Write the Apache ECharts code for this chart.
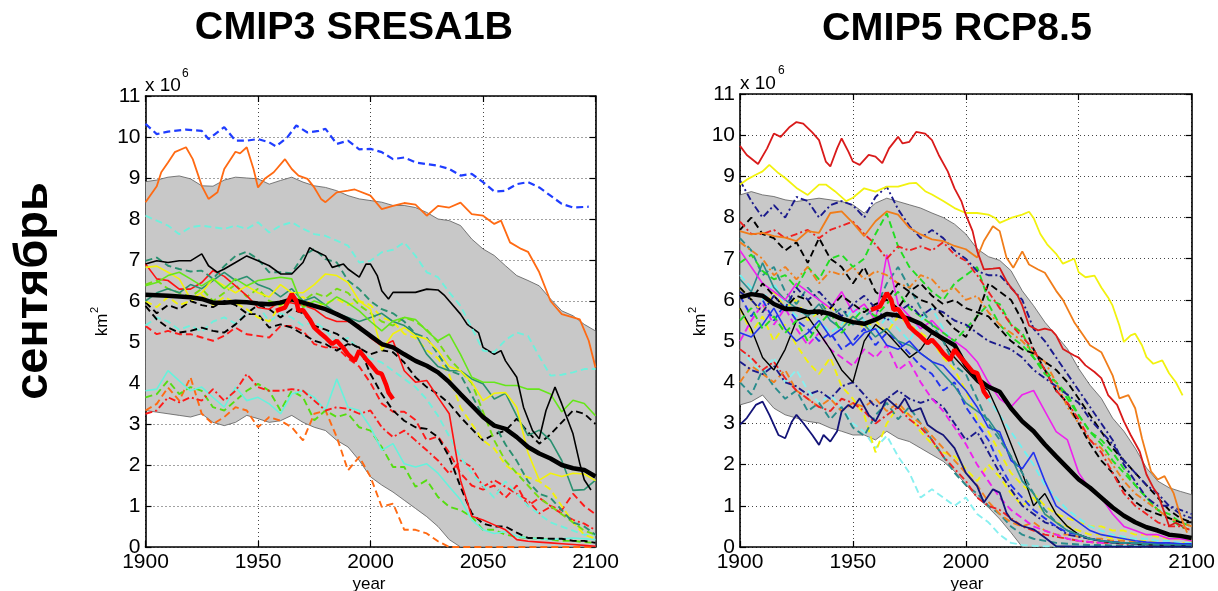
<!DOCTYPE html>
<html>
<head>
<meta charset="utf-8">
<script src="https://cdn.jsdelivr.net/npm/echarts@6/dist/echarts.min.js"></script>
<style>
  html, body { margin: 0; padding: 0; background: #fff; }
  #chart { width: 1218px; height: 591px; }
</style>
</head>
<body>
<div id="chart"></div>
<script>
// September sea-ice extent (x 10^6 km^2), model runs 1900-2100

// shared 5-year grid
const YEARS = [1900,1905,1910,1915,1920,1925,1930,1935,1940,1945,
               1950,1955,1960,1965,1970,1975,1980,1985,1990,1995,
               2000,2005,2010,2015,2020,2025,2030,2035,2040,2045,
               2050,2055,2060,2065,2070,2075,2080,2085,2090,2095,
               2100];
const X_TICKS = ['1900', '1950', '2000', '2050', '2100'];
const Y_TICKS = ['0','1','2','3','4','5','6','7','8','9','10','11'];

// observations (shared by both panels)
const OBS = [[1958,5.76],[1960,5.8],[1962,5.84],[1965,6.17],[1967,6.0],[1968,5.76],[1970,5.78],[1973,5.55],
  [1975,5.35],[1978,5.2],[1980,5.11],[1983,4.95],[1985,5.03],[1988,4.85],[1990,4.7],[1993,4.54],[1995,4.79],
  [1998,4.58],[2000,4.46],[2003,4.26],[2005,4.22],[2007,3.95],[2008,3.77],[2010,3.61]];

// ---------- CMIP3 SRESA1B ----------
const C3_ENV_UP = [8.91,8.95,9.02,9.05,8.98,8.81,8.8,8.95,9.02,9.0,
  8.98,8.85,8.94,9.02,8.9,8.81,8.77,8.69,8.57,8.49,
  8.45,8.41,8.33,8.33,8.28,8.16,8.0,7.96,7.84,7.51,
  7.27,7.11,6.86,6.62,6.5,6.37,6.05,5.76,5.64,5.43,
  5.27];
const C3_ENV_LO = [3.33,3.29,3.25,3.21,3.17,3.25,3.04,2.96,3.04,3.21,
  3.13,3.04,3.08,3.21,3.04,2.92,2.84,2.6,2.44,2.11,
  1.71,1.51,1.34,1.14,0.94,0.74,0.5,0.18,0,0,
  0,0,0,0,0,0,0,0,0,0,
  0];
const C3_MEAN = [6.15,6.14,6.13,6.11,6.09,6.05,5.96,5.96,5.98,5.97,
  5.94,5.92,5.96,6.04,5.96,5.88,5.8,5.68,5.55,5.35,
  5.15,4.95,4.87,4.7,4.54,4.42,4.26,4.02,3.73,3.45,
  3.17,2.96,2.88,2.68,2.44,2.28,2.16,2.0,1.92,1.88,
  1.72];
const C3_CYAN_DASH_HI = [8.08,7.96,7.84,7.63,7.8,7.84,7.8,7.76,7.84,7.76,
  7.92,7.67,7.84,7.92,7.76,7.63,7.59,7.47,7.35,6.94,
  6.98,7.19,7.25,7.43,7.1,6.7,6.58,6.21,5.88,5.35,
  4.79,4.75,5.05,5.23,5.15,4.65,4.18,4.2,4.26,4.34,
  4.34];
const C3_TEAL_DASH = [6.98,7.06,6.86,6.78,6.72,6.74,6.54,6.85,7.1,7.2,
  7.02,6.7,6.7,6.68,7.1,7.27,7.02,6.94,6.5,6.29,
  6.0,5.8,5.7,5.5,5.2,5.1,4.7,4.3,4.2,3.7,
  3.2,3.0,2.5,2.1,1.6,1.3,1.2,0.9,0.6,0.5,
  0.3];
const C3_TEAL = [6.0,6.2,6.3,6.2,6.4,6.3,6.5,6.7,6.5,6.6,
  6.4,6.3,6.1,6.3,6.0,6.1,5.9,5.7,5.6,5.5,
  5.6,5.7,5.5,5.4,5.2,4.7,4.4,4.3,4.3,4.1,
  3.98,3.61,3.75,3.2,2.72,2.85,2.6,2.11,1.38,1.4,
  1.63];
const C3_LIME = [6.37,6.45,6.62,6.7,6.54,6.37,6.54,6.3,6.54,6.37,
  6.5,6.54,6.58,6.54,5.84,6.0,5.9,6.1,5.95,5.76,
  5.5,5.27,5.51,5.6,5.55,5.27,5.03,5.19,4.7,4.14,
  4.02,4.02,3.94,3.94,3.85,3.85,3.73,3.3,3.58,3.5,
  3.2];
const C3_LIME_DASH = [6.4,6.5,6.3,6.2,6.1,6.3,6.0,6.2,6.4,6.1,
  6.3,6.0,5.9,6.1,6.0,6.2,6.1,6.3,6.2,5.9,
  5.7,5.5,5.4,5.6,5.5,5.3,5.0,4.6,4.3,4.0,
  3.3,2.6,2.1,1.8,1.5,1.2,1.0,0.8,0.6,0.4,
  0.3];
const C3_YELLOW = [6.82,6.85,6.7,6.54,6.05,6.2,6.54,6.37,6.2,6.37,
  6.2,6.1,6.4,6.2,6.2,6.4,6.66,6.62,6.45,6.0,
  5.8,4.8,5.2,5.35,5.15,5.07,4.79,4.4,4.3,4.02,
  3.57,3.75,3.77,3.41,2.3,1.63,1.8,1.72,1.8,1.78,
  1.62];
const C3_YELLOW_DASH = [6.0,5.85,6.1,5.9,6.0,6.15,5.9,6.1,5.95,5.8,
  5.6,5.5,5.9,6.0,6.1,5.85,5.95,6.05,5.9,6.0,
  5.9,5.6,5.5,5.2,5.1,4.8,4.6,4.2,3.4,3.0,
  2.6,2.4,2.0,1.8,1.7,1.6,1.4,1.0,0.6,0.3,
  0.2];
const C3_RED = [6.9,6.54,6.5,6.29,6.29,6.45,6.74,6.6,6.37,6.13,
  5.84,5.8,6.0,5.95,5.9,5.8,5.6,5.5,5.5,5.4,
  5.1,4.9,5.03,4.3,4.02,4.06,3.65,3.25,1.63,0.75,
  0.66,0.54,0.42,0.18,0.14,0.12,0.1,0.08,0.06,0.04,
  0.02];
const C3_BLACK_DASH_HI = [5.97,5.7,5.9,5.8,6.0,5.9,5.85,6.0,5.9,5.7,
  5.9,5.8,5.6,5.8,5.7,5.4,5.3,5.2,5.0,4.85,
  4.7,4.8,4.75,4.5,4.14,3.9,3.73,3.5,3.17,2.88,
  2.6,2.75,2.84,3.13,2.8,2.52,2.75,3.04,3.33,3.25,
  3.0];
const C3_BLACK_DASH_LO = [5.88,5.55,5.35,5.23,5.27,5.35,5.27,5.23,5.43,5.68,
  5.68,5.35,5.43,5.35,5.19,5.03,4.95,4.79,4.95,4.87,
  4.22,3.73,3.33,3.08,2.92,2.88,2.68,2.2,1.47,0.82,
  0.57,0.5,0.5,0.35,0.22,0.22,0.2,0.2,0.15,0.15,
  0.1];
const C3_RED_DASH_HI = [5.39,5.19,5.27,5.19,5.19,5.11,5.03,5.15,5.35,5.19,
  5.15,5.11,5.39,5.39,5.27,4.95,4.87,4.87,4.6,4.4,
  4.0,3.5,3.3,3.3,3.1,2.6,2.7,2.3,1.8,1.5,
  1.4,1.5,1.2,1.5,1.0,1.2,1.0,0.9,1.3,1.0,
  0.8];
const C3_RED_DASH_LO = [3.25,3.33,3.65,3.53,3.65,3.57,3.85,3.57,3.81,4.22,
  3.9,3.81,3.81,3.85,3.81,3.57,3.33,3.41,3.37,3.25,
  3.33,2.92,2.68,2.84,2.6,2.36,2.11,1.79,2.11,1.95,
  1.47,1.63,1.47,1.3,1.14,0.82,0.98,0.82,0.66,0.57,
  0.41];
const C3_CYAN_DASH_MID = [5.4,5.6,5.5,5.3,5.4,5.25,5.5,5.6,5.45,5.7,
  5.9,5.5,5.7,5.6,5.4,5.5,5.3,5.0,5.1,4.8,
  4.6,4.5,4.3,4.1,3.9,3.6,3.2,2.7,2.2,1.8,
  1.5,1.2,1.6,1.3,1.0,0.8,0.6,0.5,0.4,0.3,
  0.3];
const C3_CYAN = [3.81,3.85,4.3,4.05,3.81,3.9,3.65,3.41,3.9,3.57,
  3.65,3.49,3.25,3.73,3.81,3.65,3.33,4.1,3.41,3.33,
  2.92,2.36,2.52,2.03,1.95,2.03,1.8,1.47,1.15,0.66,
  0.42,0.33,0.38,0.26,0.22,0.2,0.18,0.2,0.22,0.2,
  0.18];
const C3_GREEN_DASH = [3.65,3.73,4.06,3.73,3.9,3.81,3.41,3.33,3.57,3.81,
  3.98,3.81,3.33,3.81,3.65,3.09,3.33,3.17,3.25,2.92,
  2.84,2.44,1.95,1.95,1.47,1.63,1.22,0.98,0.9,0.74,
  0.42,0.42,0.3,0.25,0.22,0.2,0.18,0.15,0.15,0.12,
  0.1];
const C3_ORANGE_DASH = [3.33,3.49,3.89,3.57,4.14,3.25,3.0,3.17,3.41,3.33,
  2.92,3.17,3.08,2.92,2.6,3.25,3.33,2.68,1.87,2.2,
  1.71,0.98,1.06,0.42,0.42,0.33,0.14,0,0,0,
  0,0,0,0,0,0,0,0,0,0,
  0];
const C3_BLUE_DASH = [[1900,10.32],[1905,10.07],[1910,10.13],[1918,10.18],[1925,10.15],[1928,9.95],[1935,10.24],
  [1940,9.91],[1945,9.91],[1950,9.95],[1955,9.87],[1958,9.77],[1963,9.99],[1967,10.28],[1972,10.11],[1977,10.15],
  [1980,10.2],[1985,9.83],[1990,9.91],[1995,9.7],[2000,9.71],[2005,9.63],[2010,9.46],[2015,9.5],[2020,9.38],
  [2025,9.34],[2030,9.3],[2035,9.22],[2040,9.06],[2045,9.1],[2050,8.9],[2055,8.67],[2060,8.69],[2065,8.85],
  [2070,8.9],[2075,8.77],[2080,8.57],[2085,8.37],[2090,8.28],[2097,8.3]];
const C3_ORANGE = [[1900,8.41],[1905,8.8],[1907,9.14],[1910,9.38],[1913,9.63],[1918,9.75],[1921,9.46],[1925,8.81],
  [1928,8.49],[1932,8.65],[1935,9.22],[1940,9.64],[1942,9.6],[1945,9.75],[1948,9.22],[1950,8.77],[1953,8.98],
  [1957,9.14],[1962,9.46],[1965,9.22],[1968,9.06],[1972,8.98],[1975,8.77],[1978,8.49],[1980,8.41],[1985,8.65],
  [1990,8.69],[1993,8.72],[2000,8.57],[2005,8.24],[2010,8.32],[2015,8.39],[2020,8.35],[2025,8.08],[2030,8.32],
  [2035,8.28],[2040,8.4],[2045,8.12],[2050,8.08],[2055,7.88],[2058,7.96],[2062,7.43],[2067,7.27],[2070,7.2],
  [2075,6.7],[2080,6.0],[2085,5.68],[2090,5.6],[2093,5.55],[2097,5.03],[2100,4.38]];
const C3_BLACK = [[1900,6.9],[1905,6.98],[1910,6.94],[1915,6.98],[1920,6.98],[1925,7.15],[1928,6.86],[1932,6.7],
  [1935,6.78],[1940,6.94],[1945,7.1],[1950,6.98],[1955,6.86],[1960,6.66],[1965,6.66],[1970,6.94],[1973,7.3],
  [1975,7.23],[1980,7.1],[1983,6.82],[1988,6.9],[1990,6.78],[1995,6.58],[1998,6.9],[2000,6.9],[2003,6.62],
  [2005,6.25],[2008,6.05],[2010,6.21],[2015,6.21],[2020,6.21],[2025,6.29],[2030,6.27],[2033,6.13],[2035,6.0],
  [2040,5.68],[2043,5.43],[2048,5.23],[2050,4.87],[2055,4.7],[2058,4.79],[2060,4.54],[2065,4.14],[2068,3.41],
  [2072,2.84],[2075,2.64],[2078,3.33],[2082,3.9],[2085,3.49],[2090,2.76],[2093,2.04],[2095,1.64],[2098,1.39]];

// ---------- CMIP5 RCP8.5 ----------
const C5_ENV_UP = [8.55,8.63,8.55,8.51,8.43,8.39,8.43,8.47,8.43,8.39,
  8.31,8.11,8.35,8.47,8.39,8.31,8.23,8.11,8.0,7.84,
  7.6,7.24,7.05,6.96,6.71,6.22,5.86,5.46,5.14,4.81,
  4.33,3.93,3.61,3.13,2.81,2.4,1.92,1.6,1.44,1.35,
  1.27];
const C5_ENV_LO = [3.45,3.53,3.69,3.37,3.21,3.13,3.05,3.01,2.89,2.81,
  2.72,2.72,2.6,2.81,2.64,2.56,2.4,2.24,2.08,1.84,
  1.52,1.2,0.96,0.68,0.35,0,0,0,0,0,
  0,0,0,0,0,0,0,0,0,0,
  0];
const C5_MEAN = [6.06,6.14,6.1,5.9,5.78,5.78,5.7,5.72,5.66,5.54,
  5.46,5.42,5.52,5.66,5.62,5.54,5.42,5.22,5.06,4.9,
  4.41,4.09,3.89,3.77,3.37,3.05,2.81,2.49,2.2,1.92,
  1.64,1.44,1.2,0.96,0.76,0.6,0.48,0.4,0.3,0.27,
  0.22];
const C5_NAVY_DD_HI = [8.9,8.4,8.0,8.3,8.0,8.5,8.4,8.0,8.3,8.4,
  8.3,8.0,8.5,8.75,8.2,7.8,7.5,7.7,7.5,7.2,
  7.0,6.7,6.6,6.6,6.3,6.0,5.3,5.0,4.6,4.2,
  3.8,3.4,3.0,2.6,2.0,1.6,1.2,1.0,1.0,0.8,
  0.7];
const C5_RED_DD = [7.9,7.6,7.6,7.7,7.5,7.6,7.7,7.5,7.7,7.8,
  7.9,7.6,7.35,7.0,7.3,7.2,7.3,7.2,7.4,7.1,
  6.95,6.6,6.2,5.8,5.4,5.1,4.8,4.3,3.8,3.5,
  3.1,2.6,2.3,1.8,1.3,1.0,0.8,0.6,0.5,0.5,
  0.4];
const C5_BLACK_DASH_HI = [7.7,8.0,7.6,7.5,7.2,7.4,6.9,7.5,7.0,6.8,
  6.4,6.8,6.2,6.0,6.4,6.2,6.0,5.9,5.6,5.3,
  5.1,5.6,6.4,6.2,6.0,5.5,4.8,4.3,3.8,3.5,
  3.0,2.5,2.1,1.8,1.4,1.1,0.9,0.8,0.7,0.6,
  0.6];
const C5_GREEN_DASH_HI = [6.9,7.1,6.7,6.5,6.6,6.3,6.8,6.5,7.0,7.1,
  6.8,7.0,7.6,8.1,7.3,6.8,6.5,6.2,6.0,6.4,
  6.6,6.8,6.0,5.9,5.4,5.2,4.6,4.3,4.0,3.7,
  3.2,2.8,2.5,2.1,1.8,1.5,1.2,0.9,0.7,0.5,
  0.4];
const C5_ORANGE_DD = [7.4,7.2,7.0,6.6,6.8,6.5,6.8,6.4,6.7,6.6,
  6.8,6.5,6.7,6.6,6.4,6.3,6.6,6.5,6.2,6.3,
  6.0,6.1,5.7,5.4,5.2,5.0,4.7,4.5,4.0,3.4,
  3.0,2.6,2.4,2.0,1.6,1.3,1.1,0.9,0.7,0.6,
  0.5];
const C5_TEAL_DASH_HI = [7.5,7.2,6.6,6.8,6.2,5.9,6.3,6.0,5.6,5.8,
  5.4,5.6,5.8,6.4,6.8,6.3,5.8,5.4,5.0,4.4,
  4.2,3.6,3.0,2.6,2.2,1.8,1.3,0.9,0.6,0.4,
  0.3,0.2,0.15,0.1,0.1,0.08,0.06,0.05,0.05,0.04,
  0.03];
const C5_MAGENTA = [7.2,6.8,6.4,6.2,6.0,6.4,6.2,6.0,5.8,6.2,
  5.7,5.9,5.5,7.1,5.9,5.6,5.3,5.5,5.2,5.0,
  4.8,4.5,4.0,3.6,3.4,3.7,3.8,3.3,2.8,2.6,
  1.8,1.4,1.2,0.8,0.5,0.4,0.3,0.3,0.2,0.2,
  0.15];
const C5_MAGENTA_DASH = [5.0,5.5,5.9,5.4,5.8,5.3,4.9,5.2,4.8,4.6,
  4.4,4.8,4.6,4.9,4.3,4.5,4.0,3.6,3.3,2.9,
  2.5,2.0,1.6,1.2,0.9,0.7,0.5,0.4,0.3,0.2,
  0.15,0.12,0.1,0.1,0.1,0.08,0.08,0.06,0.06,0.05,
  0.05];
const C5_CYAN_DASH_HI = [6.6,6.3,6.0,6.4,5.9,5.6,5.8,5.5,5.2,5.4,
  5.8,5.5,5.2,5.6,5.3,5.0,5.5,5.8,5.3,4.9,
  4.5,4.2,3.6,3.2,2.8,2.4,2.0,1.5,1.2,0.9,
  0.7,0.5,0.4,0.3,0.25,0.2,0.2,0.15,0.15,0.1,
  0.1];
const C5_CYAN_DASH_LO = [4.8,4.5,4.2,4.6,4.0,4.3,3.8,3.5,3.7,3.4,
  3.0,2.8,2.4,2.7,2.2,1.8,1.2,1.4,1.2,1.0,
  1.2,0.8,0.6,0.3,0.1,0.05,0.03,0.02,0.02,0.02,
  0.02,0.02,0.02,0.02,0.02,0.02,0.02,0.02,0.02,0.02,
  0.02];
const C5_YELLOW_DASH_LO = [5.8,5.2,5.6,5.0,5.4,4.9,4.5,4.2,4.6,3.9,
  3.6,3.2,2.3,3.0,3.4,3.2,2.8,2.5,2.3,2.2,
  1.9,1.6,2.0,1.7,1.3,1.0,1.2,0.8,0.6,0.5,
  0.4,0.3,0.3,0.2,0.2,0.15,0.15,0.1,0.1,0.1,
  0.1];
const C5_YELLOW_DASH_HI = [6.3,6.0,5.7,6.2,5.8,6.0,5.5,5.7,5.9,5.4,
  5.6,5.3,5.5,5.2,5.6,5.4,5.2,5.0,4.6,4.3,
  3.8,3.1,2.8,2.3,1.8,1.5,1.3,1.0,0.8,0.7,
  0.6,0.5,0.5,0.4,0.4,0.3,0.3,0.25,0.2,0.2,
  0.15];
const C5_BLUE_DASH = [6.1,5.6,6.0,5.5,5.9,5.5,5.3,5.0,5.2,4.8,
  5.0,5.3,4.9,5.2,5.0,4.7,4.4,4.2,3.8,4.0,
  3.4,3.0,2.6,2.0,1.5,1.2,0.9,0.7,0.5,0.35,
  0.3,0.2,0.15,0.12,0.1,0.1,0.08,0.08,0.06,0.06,
  0.05];
const C5_NAVY_DD_LO = [4.5,4.3,4.2,4.4,4.0,3.9,3.7,3.8,3.6,3.9,
  4.0,3.7,3.4,3.6,3.8,3.6,3.5,3.6,3.4,3.0,
  2.6,2.8,2.3,1.8,1.4,1.0,0.8,0.6,0.5,0.3,
  0.25,0.2,0.15,0.12,0.1,0.1,0.08,0.08,0.06,0.05,
  0.05];
const C5_TEAL_DASH_LO = [4.0,3.7,4.3,3.9,3.6,3.8,3.3,3.5,3.1,3.4,
  2.9,2.7,3.2,3.5,3.1,3.4,3.0,2.6,2.2,1.8,
  1.5,1.3,1.0,0.8,0.5,0.3,0.2,0.15,0.1,0.08,
  0.06,0.05,0.05,0.04,0.04,0.03,0.03,0.02,0.02,0.02,
  0.02];
const C5_RED_DASH_LO = [4.8,4.6,4.3,4.5,4.1,3.8,3.6,3.4,3.3,3.6,
  3.5,3.3,3.0,3.2,3.4,3.1,2.9,2.6,2.2,1.9,
  1.6,1.2,1.0,0.9,0.7,0.5,0.4,0.3,0.25,0.2,
  0.15,0.12,0.1,0.1,0.08,0.08,0.06,0.06,0.05,0.05,
  0.04];
const C5_BLACK = [5.8,5.3,4.6,4.3,4.8,5.5,5.6,5.2,4.8,4.3,
  4.0,5.0,5.4,5.2,4.9,4.6,4.8,5.2,5.0,4.6,
  4.3,4.0,3.8,3.2,2.5,1.8,1.0,1.3,0.8,0.5,
  0.3,0.2,0.15,0.1,0.1,0.08,0.06,0.05,0.05,0.04,
  0.04];
const C5_TEAL = [6.5,6.2,6.9,6.3,6.0,5.8,5.6,5.9,5.5,5.3,
  5.6,5.4,5.1,5.3,5.0,4.9,4.7,4.5,4.2,3.9,
  3.5,3.3,3.1,2.7,2.2,1.6,1.3,0.8,0.6,0.4,
  0.3,0.2,0.15,0.12,0.1,0.1,0.08,0.08,0.06,0.06,
  0.05];
const C5_BLUE = [5.2,5.1,5.4,5.8,5.3,5.0,5.2,5.5,5.1,5.3,
  4.9,5.2,5.3,4.9,4.8,5.0,4.7,4.5,4.4,4.1,
  3.8,3.4,2.9,2.8,2.1,1.9,2.3,1.6,1.0,0.8,
  0.6,0.4,0.3,0.25,0.2,0.15,0.12,0.1,0.1,0.08,
  0.08];
const C5_GREEN_DASH_MID = [5.5,5.8,5.3,5.6,5.2,5.5,5.0,5.4,5.7,5.2,
  5.5,5.8,5.6,5.9,6.2,5.8,5.6,5.4,5.2,5.0,
  5.3,5.6,5.9,5.4,5.1,4.9,4.6,4.2,4.0,3.6,
  3.2,2.8,2.6,2.3,1.9,1.5,1.2,0.9,0.8,0.6,
  0.5];
const C5_BLACK_DASH_LATE = [6.3,6.0,6.4,6.1,5.8,6.1,6.0,5.6,5.8,6.1,
  5.9,5.7,5.9,6.0,5.8,6.2,6.4,6.1,5.9,6.0,
  5.8,5.7,5.6,5.3,5.0,4.8,4.7,4.5,4.3,4.0,
  3.6,3.2,2.8,2.4,2.1,1.8,1.5,1.2,0.9,0.7,
  0.6];
const C5_NAVY_DASH_LATE = [6.2,6.0,5.7,6.1,5.8,6.3,6.0,6.2,5.9,5.6,
  5.9,6.1,5.8,5.5,5.7,5.9,5.6,5.8,5.7,5.5,
  5.4,5.2,5.0,4.9,4.8,4.6,4.3,4.1,3.9,3.7,
  3.5,3.1,2.8,2.5,2.1,1.8,1.5,1.3,1.0,0.9,
  0.8];
const C5_ORANGE_DASH = [4.0,4.4,4.2,4.0,4.3,3.8,3.6,3.4,3.6,3.3,
  3.5,3.4,3.6,3.3,3.5,3.2,3.0,2.7,2.4,2.1,
  1.8,1.5,1.1,0.8,0.6,0.5,0.6,0.4,0.3,0.3,
  0.25,0.2,0.2,0.15,0.15,0.12,0.1,0.1,0.1,0.08,
  0.08];
const C5_RED_TOP = [[1900,9.74],[1903,9.52],[1908,9.3],[1912,9.68],[1915,10.04],[1918,9.96],[1922,10.2],[1925,10.32],
  [1928,10.28],[1932,10.07],[1935,9.88],[1938,9.36],[1940,9.24],[1943,9.68],[1945,9.92],[1948,9.6],[1950,9.36],
  [1953,9.28],[1957,9.52],[1960,9.48],[1963,9.32],[1966,9.68],[1970,9.96],[1972,9.8],[1975,9.84],[1978,10.08],
  [1982,10.04],[1985,9.88],[1988,9.52],[1992,9.12],[1995,8.71],[1998,8.4],[2000,8.07],[2003,7.67],[2005,7.19],
  [2008,6.74],[2012,6.76],[2015,6.78],[2018,6.46],[2020,6.3],[2023,6.1],[2025,5.86],[2028,5.38],[2032,5.26],
  [2035,5.3],[2038,5.26],[2040,5.14],[2043,4.81],[2048,4.65],[2050,4.6],[2053,4.41],[2057,4.25],[2060,4.1],
  [2063,3.69],[2067,3.45],[2070,3.05],[2073,2.72],[2077,2.32],[2080,1.76],[2083,1.44],[2085,1.28],[2088,0.83],
  [2090,0.51],[2093,0.59],[2096,0.5]];
const C5_YELLOW_TOP = [[1900,8.8],[1903,8.92],[1907,9.04],[1910,9.12],[1913,9.28],[1917,9.08],[1920,8.96],[1925,8.72],
  [1930,8.55],[1935,8.8],[1938,8.8],[1942,8.64],[1947,8.4],[1950,8.48],[1955,8.71],[1960,8.63],[1965,8.75],
  [1970,8.75],[1975,8.83],[1978,8.84],[1982,8.64],[1985,8.56],[1990,8.4],[1995,8.23],[2000,8.11],[2005,8.11],
  [2010,8.07],[2013,7.99],[2015,7.87],[2020,7.99],[2025,8.07],[2028,8.14],[2030,7.99],[2033,7.6],[2036,7.35],
  [2040,7.12],[2043,6.88],[2048,7.0],[2050,6.67],[2053,6.55],[2057,6.59],[2060,6.3],[2063,6.06],[2065,5.86],
  [2068,5.38],[2070,4.98],[2073,5.14],[2075,5.18],[2078,4.9],[2080,4.61],[2083,4.45],[2087,4.53],[2090,4.22],
  [2093,4.0],[2096,3.68]];
const C5_ORANGE_TOP = [[1900,7.67],[1905,7.59],[1910,7.63],[1915,7.55],[1920,7.51],[1925,7.43],[1930,7.67],[1935,7.63],
  [1940,8.11],[1945,8.15],[1950,7.87],[1955,7.55],[1960,7.91],[1965,8.15],[1970,8.07],[1975,7.75],[1980,7.59],
  [1985,7.47],[1990,7.43],[1995,7.31],[2000,7.23],[2005,7.03],[2008,7.43],[2012,7.79],[2015,7.67],[2018,7.03],
  [2021,6.78],[2025,7.18],[2028,6.86],[2032,6.74],[2035,6.66],[2040,6.22],[2043,6.0],[2048,5.46],[2052,5.14],
  [2055,4.9],[2060,4.73],[2065,4.17],[2068,3.61],[2072,3.69],[2075,3.37],[2078,2.64],[2082,1.84],[2085,1.64],
  [2088,1.72],[2092,1.31],[2095,0.76],[2098,0.35]];
const C5_NAVY = [[1900,2.97],[1903,3.13],[1907,3.45],[1910,3.53],[1913,3.21],[1917,2.72],[1920,2.64],[1923,3.05],
  [1925,3.21],[1928,3.01],[1932,2.72],[1935,2.48],[1937,2.72],[1940,2.56],[1943,2.81],[1945,3.29],[1948,3.45],
  [1950,3.37],[1953,3.61],[1957,3.21],[1960,3.05],[1963,3.37],[1965,3.61],[1970,3.37],[1973,3.61],[1976,3.29],
  [1980,3.37],[1983,2.97],[1987,2.81],[1990,2.72],[1995,2.4],[2000,1.8],[2005,1.48],[2008,1.08],[2012,1.4],
  [2015,1.32],[2018,0.83],[2020,0.67],[2025,0.51],[2030,0.43],[2035,0.23],[2040,0.02],[2050,0.01],[2100,0.01]];

// ---------- drawing ----------
const FONT = '"Liberation Sans", Arial, Helvetica, sans-serif';
const SOLID = 'solid';
const DASH = [7, 4];
const DASHDOT = [7, 3, 2, 3];

function onGrid(vals) { return vals.map((v, i) => [YEARS[i], v]); }

function line(panel, data, color, type, width, z) {
  return {
    type: 'line', xAxisIndex: panel * 2, yAxisIndex: panel * 2,
    data: Array.isArray(data[0]) ? data : onGrid(data),
    symbol: 'none', silent: true, animation: false, z: z || 3,
    lineStyle: { color, type, width: width || (type === SOLID ? 1.6 : 1.9), cap: 'butt' }
  };
}

function envelope(panel, up, lo) {
  return {
    type: 'custom', coordinateSystem: 'cartesian2d',
    xAxisIndex: panel * 2, yAxisIndex: panel * 2,
    data: [[YEARS[0], 0]], silent: true, animation: false, z: 2,
    renderItem: (params, api) => {
      const pts = up.map((v, i) => api.coord([YEARS[i], v]));
      for (let i = lo.length - 1; i >= 0; i--) pts.push(api.coord([YEARS[i], lo[i]]));
      return { type: 'polygon', shape: { points: pts },
               style: { fill: '#c8c8c8', stroke: '#5a5a5a', lineWidth: 0.8 } };
    }
  };
}

function xAxis(gi, top) {
  return {
    type: 'value', gridIndex: gi, position: top ? 'top' : 'bottom',
    min: 1900, max: 2100, interval: 50,
    axisLine: { show: true, onZero: false, lineStyle: { color: '#000', width: 1.6 } },
    axisTick: { show: true, inside: true, length: 6, lineStyle: { color: '#000', width: 1.2 } },
    axisLabel: { show: !top, color: '#000', fontSize: 21, fontFamily: FONT, margin: 5,
                 showMinLabel: true, showMaxLabel: true,
                 formatter: v => X_TICKS[(v - 1900) / 50] },
    splitLine: { show: !top, lineStyle: { color: '#444', width: 1, type: [1, 3] } }
  };
}
function yAxis(gi, right) {
  return {
    type: 'value', gridIndex: gi, position: right ? 'right' : 'left',
    min: 0, max: 11, interval: 1,
    axisLine: { show: true, onZero: false, lineStyle: { color: '#000', width: 1.6 } },
    axisTick: { show: true, inside: true, length: 6, lineStyle: { color: '#000', width: 1.2 } },
    axisLabel: { show: !right, color: '#000', fontSize: 21, fontFamily: FONT, margin: 5,
                 showMinLabel: true, showMaxLabel: true, formatter: v => Y_TICKS[v] },
    splitLine: { show: !right, lineStyle: { color: '#444', width: 1, type: [1, 3] } }
  };
}

function txt(x, y, text, size, opts) {
  return Object.assign({
    type: 'text', x, y, silent: true,
    style: { text, font: (opts && opts.bold ? 'bold ' : '') + size + 'px ' + FONT, fill: '#000',
             align: (opts && opts.align) || 'center', verticalAlign: 'middle' }
  }, opts && opts.rot ? { rotation: opts.rot } : {});
}

const R90 = Math.PI / 2;

const series = [
  // CMIP3
  envelope(0, C3_ENV_UP, C3_ENV_LO),
  line(0, C3_ORANGE_DASH, '#ff6a13', DASH),
  line(0, C3_GREEN_DASH, '#55dd11', DASH),
  line(0, C3_CYAN, '#66f2dc', SOLID),
  line(0, C3_RED_DASH_LO, '#ff1a1a', DASHDOT),
  line(0, C3_RED_DASH_HI, '#ff1a1a', DASH),
  line(0, C3_CYAN_DASH_MID, '#6ff0dc', DASH),
  line(0, C3_BLACK_DASH_LO, '#000', DASH),
  line(0, C3_BLACK_DASH_HI, '#000', DASH),
  line(0, C3_YELLOW_DASH, '#f2f20a', DASH),
  line(0, C3_LIME_DASH, '#77dd11', DASH),
  line(0, C3_RED, '#ff1111', SOLID),
  line(0, C3_TEAL, '#2a9070', SOLID),
  line(0, C3_TEAL_DASH, '#2a9070', DASH),
  line(0, C3_YELLOW, '#f2f20a', SOLID),
  line(0, C3_LIME, '#66e61a', SOLID),
  line(0, C3_BLACK, '#000', SOLID),
  line(0, C3_CYAN_DASH_HI, '#6ff0dc', DASH),
  line(0, C3_ORANGE, '#ff6a13', SOLID, 1.8),
  line(0, C3_BLUE_DASH, '#1f3dff', DASH, 2.2),
  line(0, C3_MEAN, '#000', SOLID, 4.5, 5),
  line(0, OBS, '#ff0000', SOLID, 4.5, 6),
  // CMIP5
  envelope(1, C5_ENV_UP, C5_ENV_LO),
  line(1, C5_CYAN_DASH_LO, '#88f0f0', DASH),
  line(1, C5_YELLOW_DASH_LO, '#f2f20a', DASH),
  line(1, C5_TEAL_DASH_LO, '#2a8c8c', DASH),
  line(1, C5_ORANGE_DASH, '#f08020', DASH),
  line(1, C5_RED_DASH_LO, '#ee2222', DASHDOT),
  line(1, C5_NAVY_DD_LO, '#1a1a8c', DASHDOT),
  line(1, C5_MAGENTA_DASH, '#ee22ee', DASH),
  line(1, C5_BLUE_DASH, '#2233ee', DASH),
  line(1, C5_YELLOW_DASH_HI, '#f2f20a', DASH),
  line(1, C5_CYAN_DASH_HI, '#6ff0f0', DASH),
  line(1, C5_BLACK, '#000', SOLID, 1.4),
  line(1, C5_TEAL, '#2a8c8c', SOLID),
  line(1, C5_BLUE, '#2233ee', SOLID),
  line(1, C5_TEAL_DASH_HI, '#2a8c8c', DASH),
  line(1, C5_MAGENTA, '#ee22ee', SOLID),
  line(1, C5_GREEN_DASH_MID, '#22dd22', DASH),
  line(1, C5_GREEN_DASH_HI, '#22dd22', DASH),
  line(1, C5_ORANGE_DD, '#f08020', DASHDOT),
  line(1, C5_BLACK_DASH_LATE, '#000', DASH),
  line(1, C5_NAVY_DASH_LATE, '#1a1a8c', DASHDOT),
  line(1, C5_BLACK_DASH_HI, '#000', DASH),
  line(1, C5_RED_DD, '#ee2222', DASHDOT),
  line(1, C5_NAVY_DD_HI, '#1a1a8c', DASHDOT),
  line(1, C5_NAVY, '#141478', SOLID, 1.8),
  line(1, C5_ORANGE_TOP, '#f07d1a', SOLID, 1.8),
  line(1, C5_YELLOW_TOP, '#f2f20f', SOLID, 1.8),
  line(1, C5_RED_TOP, '#d91a1a', SOLID, 1.8),
  line(1, C5_MEAN, '#000', SOLID, 4.5, 5),
  line(1, OBS, '#ff0000', SOLID, 4.5, 6)
];

const chart = echarts.init(document.getElementById('chart'), null, { renderer: 'canvas' });
chart.setOption({
  animation: false,
  backgroundColor: '#fff',
  grid: [
    { left: 145.5, top: 96, width: 450, height: 451, containLabel: false },
    { left: 740, top: 94, width: 455, height: 453, containLabel: false }
  ],
  xAxis: [xAxis(0, false), xAxis(0, true), xAxis(1, false), xAxis(1, true)],
  yAxis: [yAxis(0, false), yAxis(0, true), yAxis(1, false), yAxis(1, true)],
  series,
  graphic: [
    txt(354, 28, 'CMIP3 SRESA1B', 39.5, { bold: true }),
    txt(957, 29, 'CMIP5 RCP8.5', 39.5, { bold: true }),
    txt(34, 291, 'сентябрь', 47, { bold: true, rot: R90 }),
    // axis multipliers
    txt(145, 86, 'x 10', 19, { align: 'left' }),
    txt(182, 74, '6', 12, { align: 'left' }),
    txt(740, 84, 'x 10', 19, { align: 'left' }),
    txt(778, 71, '6', 12, { align: 'left' }),
    // axis names
    txt(102, 325, 'km', 17, { rot: R90 }),
    txt(95, 310, '2', 11, { rot: R90 }),
    txt(700, 325, 'km', 17, { rot: R90 }),
    txt(693, 310, '2', 11, { rot: R90 }),
    txt(369, 584, 'year', 17),
    txt(967, 584, 'year', 17)
  ]
});
</script>
</body>
</html>
